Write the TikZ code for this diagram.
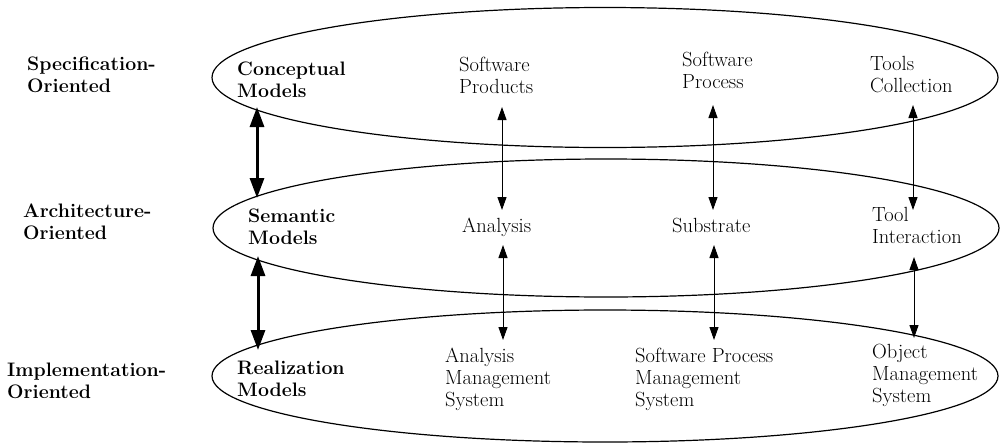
\documentclass[tikz,border=0pt]{standalone}
\usetikzlibrary{shapes.geometric,arrows.meta}
\begin{document}
\begin{tikzpicture}[x=1pt,y=-1pt,
  txt/.style={anchor=base west,align=left,inner sep=0pt,font=\fontsize{20.5}{22}\selectfont},
  btxt/.style={txt,font=\fontsize{19.5}{22}\selectfont\bfseries},
  layer/.style={draw,ellipse,line width=1.2pt,minimum width=786pt,minimum height=140pt,inner sep=0pt},
  thin/.style={line width=1pt,{Triangle[length=13pt,width=9pt]}-{Triangle[length=13pt,width=9pt]}},
  thick/.style={line width=3pt,{Triangle[length=20pt,width=14pt]}-{Triangle[length=20pt,width=14pt]}}]
\useasboundingbox (0,0) rectangle (1007,445);
% layers
\node[layer] (L1) at (605,77.5) {};
\node[layer,minimum height=138pt] (L2) at (606,228) {};
\node[layer,minimum height=132pt] (L3) at (605,376) {};
% left labels (anchor = baseline of last line)
\node[btxt] (spec) at (27,92) {Specification-\\Oriented};
\node[btxt] (arch) at (23,239) {Architecture-\\Oriented};
\node[btxt] (impl) at (7,398) {Implementation-\\Oriented};
% model labels
\node[btxt] (conc) at (237,97) {Conceptual\\Models};
\node[btxt] (sem) at (248,244) {Semantic\\Models};
\node[btxt] (real) at (237,396) {Realization\\Models};
% column texts
\node[txt] (swp) at (459,93) {Software\\Products};
\node[txt] (swpr) at (682,88) {Software\\Process};
\node[txt] (tc) at (870,92) {Tools\\Collection};
\node[txt] (an) at (462,232) {Analysis};
\node[txt] (sub) at (672,232) {Substrate};
\node[txt] (ti) at (872,243) {Tool\\Interaction};
\node[txt] (ams) at (445,406) {Analysis\\Management\\System};
\node[txt] (spms) at (635,406) {Software Process\\Management\\System};
\node[txt] (oms) at (872,402) {Object\\Management\\System};
% arrow ends
\coordinate (a1t) at (502,107); \coordinate (a1b) at (502,210);
\coordinate (a2t) at (503,245); \coordinate (a2b) at (503,340);
\coordinate (b1t) at (713,105); \coordinate (b1b) at (713,210);
\coordinate (b2t) at (714,245); \coordinate (b2b) at (714,340);
\coordinate (c1t) at (913,105); \coordinate (c1b) at (913,210);
\coordinate (c2t) at (914,257); \coordinate (c2b) at (914,338);
\coordinate (t1t) at (257,107); \coordinate (t1b) at (257,198);
\coordinate (t2t) at (258,256); \coordinate (t2b) at (258,350);
% arrows
\draw[thin] (a1t) -- (a1b);
\draw[thin] (a2t) -- (a2b);
\draw[thin] (b1t) -- (b1b);
\draw[thin] (b2t) -- (b2b);
\draw[thin] (c1t) -- (c1b);
\draw[thin] (c2t) -- (c2b);
\draw[thick] (t1t) -- (t1b);
\draw[thick] (t2t) -- (t2b);
\end{tikzpicture}
\end{document}
